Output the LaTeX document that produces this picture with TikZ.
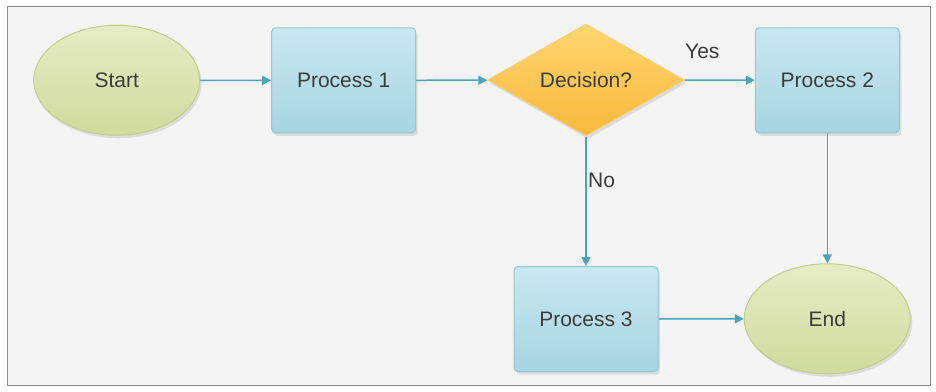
\documentclass[tikz,border=0pt]{standalone}
\usepackage{fontspec}
\setmainfont{Liberation Sans}
\usetikzlibrary{matrix, arrows.meta, shapes.geometric, shadows}

\definecolor{flowline}{HTML}{4BA3BD}
\definecolor{termtop}{HTML}{E6ECC6}
\definecolor{termbot}{HTML}{D0DB9C}
\definecolor{termedge}{HTML}{C3CE8A}
\definecolor{proctop}{HTML}{C9E8F0}
\definecolor{procbot}{HTML}{A6D5E2}
\definecolor{procedge}{HTML}{92C8D6}
\definecolor{dectop}{HTML}{FFD670}
\definecolor{decbot}{HTML}{F8B83C}
\definecolor{decedge}{HTML}{F6CF7C}
\definecolor{txt}{HTML}{3C3C3C}
\definecolor{panel}{HTML}{F4F4F4}

\begin{document}
\begin{tikzpicture}[x=1pt, y=1pt,
  every node/.style={font=\fontsize{21}{25}\selectfont, text=txt},
  shade/.style={drop shadow={shadow xshift=2pt, shadow yshift=-3pt, opacity=.2}},
  term/.style={ellipse, draw=termedge, line width=1pt, top color=termtop, bottom color=termbot,
    minimum width=166pt, minimum height=110pt, shade},
  proc/.style={rectangle, rounded corners=4pt, draw=procedge, line width=1pt, top color=proctop,
    bottom color=procbot, minimum width=144pt, minimum height=105pt, shade},
  dec/.style={diamond, draw=decedge, line width=1pt, top color=dectop, bottom color=decbot,
    minimum width=197pt, minimum height=112pt, inner sep=0pt, shade},
  flow/.style={draw=flowline, line width=1.5pt, -{Triangle[length=9pt, width=9pt]}}]
\useasboundingbox (0,0) rectangle (936,391);
\draw[draw=black!45, fill=panel] (7,385) rectangle (930,6);
\matrix (m) [matrix of nodes, column sep = 71pt, row sep = 127pt] at (472,192) {
\node[term](start){Start}; & \node[proc](p1){Process 1}; & \node[dec](q){Decision?}; &[-12pt] \node[proc](p2){Process 2}; \\
 & & \node[proc](p3){Process 3}; &[-12pt] \node[term](finish){End}; \\
};
\draw[flow] (start) -- (p1);
\draw[flow] (p1) -- (q);
\draw[flow] (q) -- (p2) node[above=17pt, pos=.25]{Yes};
\draw[flow] (q) -- (p3) node[right=-2pt, pos=.34]{No};
\draw[flow] (p2) -- (finish);
\draw[flow] (p3) -- (finish);
\end{tikzpicture}
\end{document}
